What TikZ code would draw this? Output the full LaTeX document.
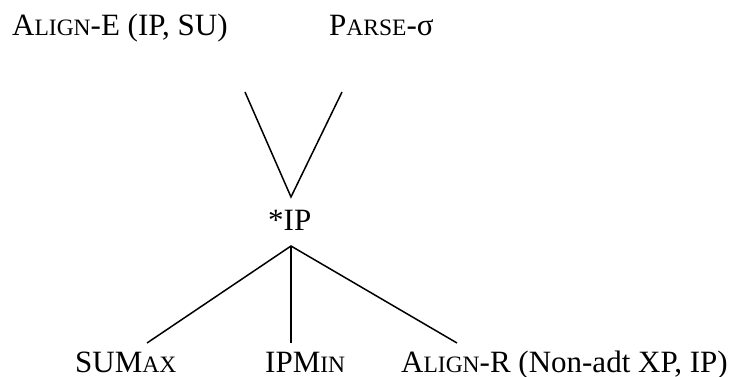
\documentclass[tikz,border=0pt]{standalone}
\usepackage{fontspec}
\setmainfont{Liberation Serif}
\newcommand{\lowcap}[1]{{\fontsize{23.5}{24}\selectfont #1}}

\begin{document}
\begin{tikzpicture}[x=1pt,y=-1pt]
  \tikzset{label/.style={inner sep=0pt,anchor=base west,font=\fontsize{31}{33}\selectfont},
           branch/.style={line width=1.5pt}}
    \useasboundingbox (0,0) rectangle (732,376);
    % constraints on top
    \node[label] (alignE) at (12,35.5) {A\lowcap{LIGN}-E (IP, SU)};
    \node[label] (parse) at (329,35.5) {P\lowcap{ARSE}-σ};
    % the middle one
    \node[label] (ip) at (268,230) {*IP};
    % constraints below
    \node[label] (sumax) at (75,372) {SUM\lowcap{AX}};
    \node[label] (ipmin) at (265,372) {IPM\lowcap{IN}};
    \node[label] (alignR) at (401,372) {A\lowcap{LIGN}-R (Non-adt XP, IP)};
    % ends of the branches
    \coordinate (alignE end) at (245,92);
    \coordinate (parse end) at (342,92);
    \coordinate (ip top) at (291,197);
    \coordinate (ip bottom) at (291,246);
    \coordinate (sumax end) at (147,343);
    \coordinate (ipmin end) at (291,343);
    \coordinate (alignR end) at (457,343);
    \draw[branch] (alignE end) -- (ip top) -- (parse end);
    \draw[branch] (sumax end) -- (ip bottom) -- (alignR end);
    \draw[branch] (ip bottom) -- (ipmin end);
\end{tikzpicture}
\end{document}
